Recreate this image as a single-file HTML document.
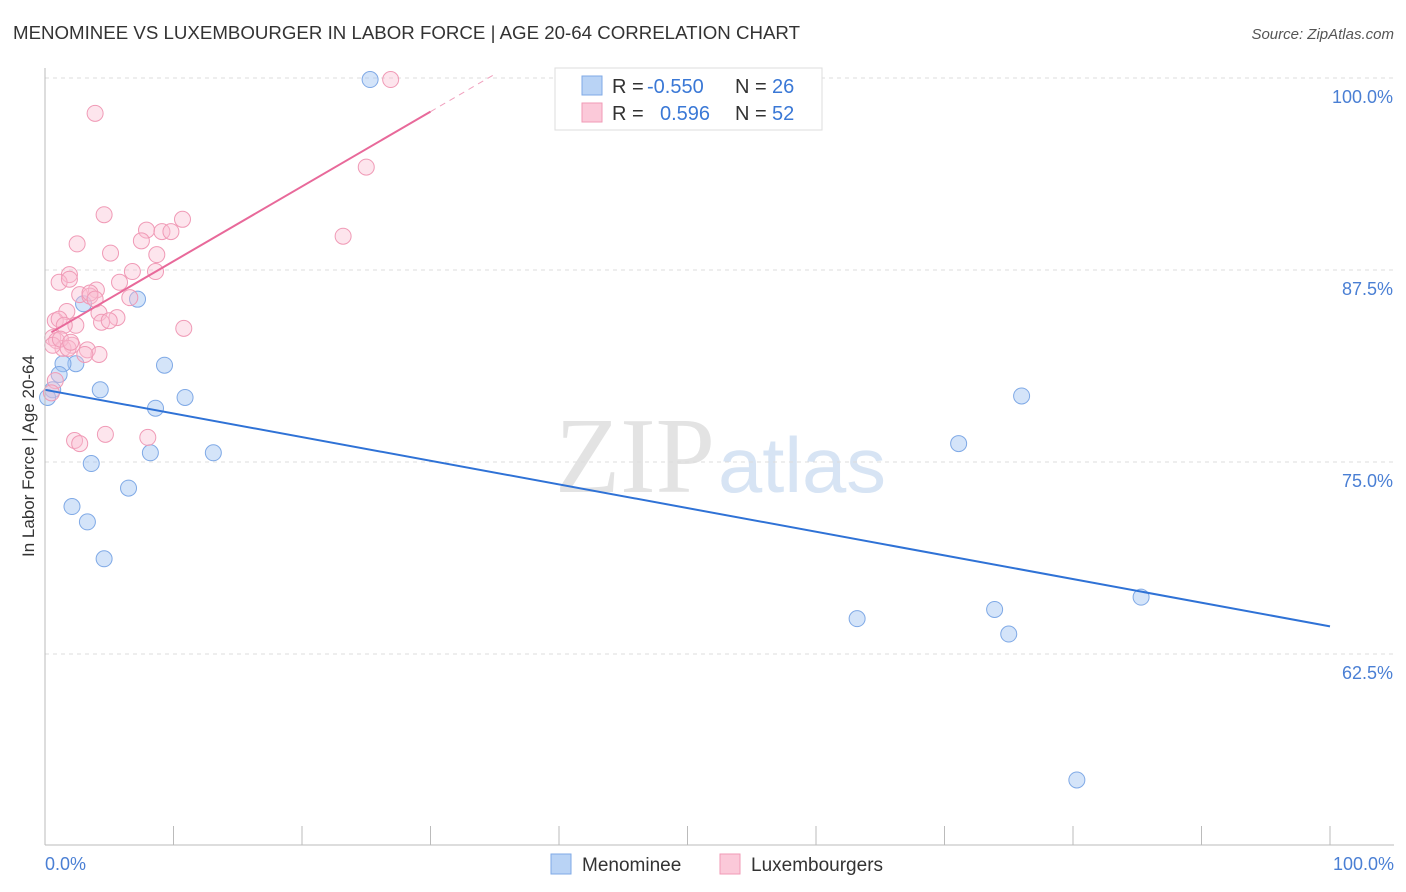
<!DOCTYPE html>
<html><head><meta charset="utf-8"><style>
body{margin:0;background:#fff;font-family:"Liberation Sans",sans-serif}
#wrap{position:relative;width:1406px;height:892px;overflow:hidden}
</style></head><body>
<div id="wrap">
<svg id="svg" width="1406" height="892" xmlns="http://www.w3.org/2000/svg">
<text x="13" y="39" font-size="18" fill="#333" textLength="787" lengthAdjust="spacingAndGlyphs">MENOMINEE VS LUXEMBOURGER IN LABOR FORCE | AGE 20-64 CORRELATION CHART</text>
<text x="1394" y="39" font-size="15" fill="#555" font-style="italic" text-anchor="end">Source: ZipAtlas.com</text>
<text transform="translate(34,456) rotate(-90)" font-size="17" fill="#333" text-anchor="middle">In Labor Force | Age 20-64</text>
<text x="555" y="492" font-size="108" fill="#e3e3e3" font-family="Liberation Serif,serif" textLength="160" lengthAdjust="spacingAndGlyphs">ZIP</text>
<text x="718" y="492" font-size="78" fill="#d7e4f4" textLength="168" lengthAdjust="spacingAndGlyphs">atlas</text>
<g id="grid"></g><g id="marks"></g>
<line x1="45" y1="68" x2="45" y2="845" stroke="#bbb"/>
<line x1="45" y1="845" x2="1394" y2="845" stroke="#bbb"/>
<text x="45" y="870" font-size="18" fill="#4a7fd4">0.0%</text>
<text x="1394" y="870" font-size="18" fill="#4a7fd4" text-anchor="end">100.0%</text>
<g>
<rect x="555" y="68" width="267" height="62" fill="#fff" stroke="#ddd"/>
<rect x="582" y="76" width="20" height="19" fill="#b9d3f5" stroke="#7fa9e6"/>
<rect x="582" y="103" width="20" height="19" fill="#fbc9d9" stroke="#f09ab6"/>
<text y="93" font-size="20" fill="#333"><tspan x="612">R =</tspan><tspan x="647" fill="#3a78d6">-0.550</tspan><tspan x="735">N =</tspan><tspan x="772" fill="#3a78d6">26</tspan></text>
<text y="120" font-size="20" fill="#333"><tspan x="612">R =</tspan><tspan x="660" fill="#3a78d6">0.596</tspan><tspan x="735">N =</tspan><tspan x="772" fill="#3a78d6">52</tspan></text>
</g>
<g>
<rect x="551" y="854" width="20" height="20" fill="#b9d3f5" stroke="#7fa9e6"/>
<text x="582" y="871" font-size="19" fill="#333">Menominee</text>
<rect x="720" y="854" width="20" height="20" fill="#fbc9d9" stroke="#f09ab6"/>
<text x="751" y="871" font-size="19" fill="#333">Luxembourgers</text>
</g>
</svg>
</div>
<script>
const yTicks=[100,87.5,75,62.5];
const yTickLabels=["100.0%","87.5%","75.0%","62.5%"];
const blueX=[25.3,7.2,3.0,9.3,2.4,1.4,1.1,4.3,0.6,0.2,8.6,10.9,8.2,13.1,3.6,6.5,2.1,3.3,4.6,71.1,76.0,63.2,73.9,75.0,85.3,80.3];
const blueY=[99.9,85.6,85.3,81.3,81.4,81.4,80.7,79.7,79.7,79.2,78.5,79.2,75.6,75.6,74.9,73.3,72.1,71.1,68.7,76.2,79.3,64.8,65.4,63.8,66.2,54.3];
const pinkX=[26.9,3.9,25.0,4.6,10.7,7.9,9.1,9.8,7.5,23.2,2.5,5.1,8.7,1.9,6.8,8.6,1.1,1.9,5.8,4.0,2.7,3.5,6.6,1.7,4.2,0.8,1.1,5.6,4.4,5.0,2.4,1.5,10.8,0.6,0.9,2.1,1.4,3.3,0.6,4.2,3.1,0.8,0.5,8.0,4.7,2.3,2.7,3.5,1.2,1.8,3.9,2.0];
const pinkY=[99.9,97.7,94.2,91.1,90.8,90.1,90.0,90.0,89.4,89.7,89.2,88.6,88.5,87.2,87.4,87.4,86.7,86.9,86.7,86.2,85.9,85.8,85.7,84.8,84.7,84.2,84.3,84.4,84.1,84.2,83.9,83.9,83.7,83.1,82.9,82.6,82.4,82.3,82.6,82.0,82.0,80.3,79.5,76.6,76.8,76.4,76.2,86.0,83.0,82.4,85.6,82.8];
const blueTrend=[79.7,64.3];
const pinkTrend=[83.2,0.487];
const xTickVals=[0,10,20,30,40,50,60,70,80,90,100];
const NS="http://www.w3.org/2000/svg";
const X=v=>45+v*12.85, Y=v=>78+(100-v)*15.36;
const grid=document.getElementById('grid'), marks=document.getElementById('marks');
function mk(t,a,p){const e=document.createElementNS(NS,t);for(const k in a)e.setAttribute(k,a[k]);p.appendChild(e);return e;}
yTicks.forEach((v,i)=>{
 const l=mk('line',{x1:45,x2:1394,y1:Y(v),y2:Y(v),stroke:'#ddd','stroke-dasharray':'4,4'},grid);
 
 
 const t=mk('text',{x:1393,y:Y(v)+25,'font-size':18,fill:'#4a7fd4','text-anchor':'end'},grid);
 t.textContent=yTickLabels[i];
 
 
});
xTickVals.forEach(v=>{
 const l=mk('line',{x1:X(v),x2:X(v),y1:826,y2:845,stroke:'#bbb'},grid);
 
 
});
blueX.forEach((x,i)=>{
 const c=mk('circle',{cx:X(x),cy:Y(blueY[i]),r:8,fill:'rgba(160,196,242,0.45)',stroke:'#7fa9e6','stroke-width':1},marks);
 
 
});
pinkX.forEach((x,i)=>{
 const c=mk('circle',{cx:X(x),cy:Y(pinkY[i]),r:8,fill:'rgba(250,190,210,0.4)',stroke:'#f09ab6','stroke-width':1},marks);
 
 
});
const bl=mk('line',{x1:X(0),y1:Y(blueTrend[0]),x2:X(100),y2:Y(blueTrend[1]),stroke:'#2f72d6','stroke-width':2},marks);


const pf=x=>pinkTrend[0]+pinkTrend[1]*x;
const pl=mk('line',{x1:X(0.5),y1:Y(pf(0.5)),x2:X(30),y2:Y(pf(30)),stroke:'#e8699a','stroke-width':2},marks);


const pd=mk('line',{x1:X(30),y1:Y(pf(30)),x2:X(34.9),y2:Y(pf(34.9)),stroke:'#f0a0bd','stroke-width':1,'stroke-dasharray':'6,5'},marks);


</script>
</body></html>
